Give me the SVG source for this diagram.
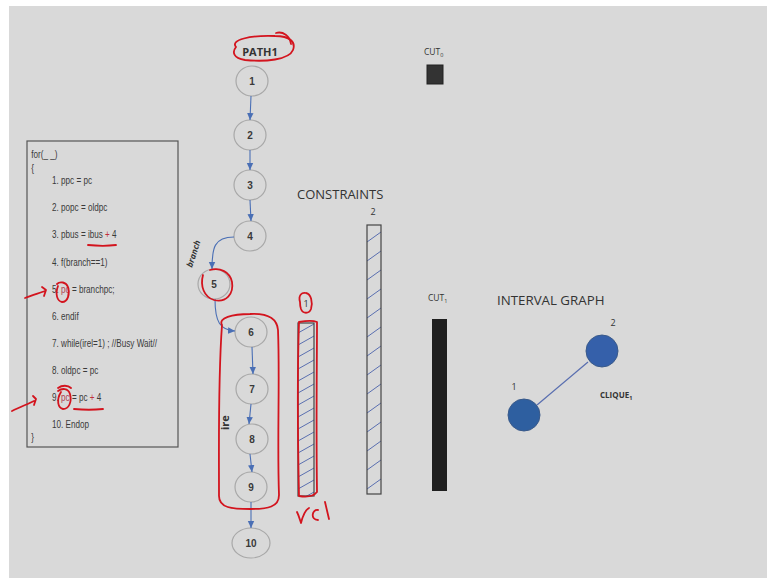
<svg xmlns="http://www.w3.org/2000/svg" width="767" height="578" viewBox="0 0 767 578">
  <style>
    .code{font-family:"Liberation Sans",Arial,sans-serif;font-size:11px;fill:#3a3a3a}
    .nd ellipse{fill:none;stroke:#a8a8a8;stroke-width:1.2}
    .nd text{font-family:"Liberation Sans",Arial,sans-serif;font-size:10px;font-weight:bold;fill:#3a3a3a;text-anchor:middle}
    .edge{fill:none;stroke:#4a6fb5;stroke-width:1.1;marker-end:url(#ah)}
    .ink{fill:none;stroke:#d3141e;stroke-width:1.8;stroke-linecap:round;stroke-linejoin:round}
    .lbl{font-family:"Open Sans","Liberation Sans",sans-serif;fill:#333}
    .hatch{stroke:#5a6fb0;stroke-width:1}
    .bar{stroke:#444;stroke-width:1.2}
  </style>
  <defs>
    <marker id="ah" markerWidth="8" markerHeight="8" refX="7" refY="4" orient="auto" markerUnits="userSpaceOnUse">
      <path d="M0,0.8 L7,4 L0,7.2 Z" fill="#4a6fb5"/>
    </marker>
    <pattern id="h1" patternUnits="userSpaceOnUse" x="298" y="323" width="16" height="12">
      <rect width="16" height="12" fill="#d9d9d9"/>
      <line x1="0" y1="10" x2="16" y2="1" class="hatch"/>
    </pattern>
    <pattern id="h2" patternUnits="userSpaceOnUse" x="367" y="225" width="14" height="19">
      <rect width="14" height="19" fill="#d9d9d9"/>
      <line x1="0" y1="17" x2="14" y2="7" class="hatch"/>
    </pattern>
  </defs>

  <rect width="767" height="578" fill="#ffffff"/>
  <rect x="9" y="6" width="758" height="572" fill="#d9d9d9"/>

  <!-- source listing (condensed horizontally) -->
  <g id="code">
    <rect x="27" y="141" width="151" height="306" fill="none" stroke="#555" stroke-width="1.2"/>
    <g transform="translate(52,0) scale(0.74,1)">
      <text class="code" x="-28" y="158">for(_ _)</text>
      <text class="code" x="-28" y="172">{</text>
      <text class="code" x="0" y="184">1. ppc = pc</text>
      <text class="code" x="0" y="211">2. popc = oldpc</text>
      <text class="code" x="0" y="238">3. pbus = ibus <tspan fill="#c0303a">+</tspan> 4</text>
      <text class="code" x="0" y="266">4. f(branch==1)</text>
      <text class="code" x="0" y="293">5. <tspan fill="#b04050">pc</tspan> = branchpc;</text>
      <text class="code" x="0" y="320">6. endif</text>
      <text class="code" x="0" y="347">7. while(irel=1) ; //Busy Wait//</text>
      <text class="code" x="0" y="374">8. oldpc = pc</text>
      <text class="code" x="0" y="401">9. <tspan fill="#b04050">pc</tspan> = pc <tspan fill="#c0303a">+</tspan> 4</text>
      <text class="code" x="0" y="428">10. Endop</text>
      <text class="code" x="-28" y="441">}</text>
    </g>
  </g>

  <!-- path nodes -->
  <g id="n1" class="nd"><ellipse cx="252" cy="81" rx="16" ry="15"/><text x="252" y="85">1</text></g>
  <g id="n2" class="nd"><ellipse cx="250" cy="135" rx="16" ry="15"/><text x="250" y="139">2</text></g>
  <g id="n3" class="nd"><ellipse cx="250" cy="185" rx="16" ry="15"/><text x="250" y="189">3</text></g>
  <g id="n4" class="nd"><ellipse cx="250" cy="236" rx="16" ry="15"/><text x="250" y="240">4</text></g>
  <g id="n5" class="nd"><ellipse cx="214" cy="284" rx="16" ry="15"/><text x="214" y="288">5</text></g>
  <g id="n6" class="nd"><ellipse cx="251" cy="332" rx="16" ry="15"/><text x="251" y="336">6</text></g>
  <g id="n7" class="nd"><ellipse cx="252" cy="389" rx="16" ry="15"/><text x="252" y="393">7</text></g>
  <g id="n8" class="nd"><ellipse cx="252" cy="439" rx="16" ry="15"/><text x="252" y="443">8</text></g>
  <g id="n9" class="nd"><ellipse cx="251" cy="487" rx="16" ry="15"/><text x="251" y="491">9</text></g>
  <g id="n10" class="nd"><ellipse cx="251" cy="543" rx="19" ry="15"/><text x="251" y="547">10</text></g>

  <!-- connectors -->
  <g id="edges">
    <path class="edge" d="M251,96 L250,120"/>
    <path class="edge" d="M250,150 L250,170"/>
    <path class="edge" d="M250,200 L251,221"/>
    <path class="edge" d="M234,237 C214,237 212,248 212,269"/>
    <path class="edge" d="M215,299 C215,322 220,330 235,331"/>
    <path class="edge" d="M252,347 L253,374"/>
    <path class="edge" d="M251,404 L249,424"/>
    <path class="edge" d="M250,454 L252,472"/>
    <path class="edge" d="M251,502 L251,528"/>
  </g>

  <text class="lbl" x="260" y="56" font-size="11" font-weight="bold" text-anchor="middle" fill="#222">PATH1</text>
  <text class="lbl" x="0" y="0" font-size="8.5" font-weight="bold" font-style="italic" transform="translate(192,268) rotate(-72)">branch</text>
  <text class="lbl" x="0" y="0" font-size="11" font-weight="bold" transform="translate(229,430) rotate(-90)">ire</text>

  <!-- constraint intervals -->
  <text class="lbl" x="297" y="199" font-size="13">CONSTRAINTS</text>
  <g id="c1">
    <rect x="298" y="323" width="16" height="173" fill="url(#h1)" class="bar"/>
    <text class="lbl" x="306" y="307" font-size="9" text-anchor="middle">1</text>
  </g>
  <g id="c2">
    <rect x="367" y="225" width="14" height="269" fill="url(#h2)" class="bar"/>
    <text class="lbl" x="373" y="215" font-size="9" text-anchor="middle">2</text>
  </g>

  <!-- cuts -->
  <g id="cut0">
    <text class="lbl" x="424" y="55" font-size="8.5">CUT<tspan font-size="5.5" dy="1.5">0</tspan></text>
    <rect x="427" y="65" width="16" height="19" fill="#333" stroke="#222" stroke-width="1"/>
  </g>
  <g id="cut1">
    <text class="lbl" x="428" y="301" font-size="8.5">CUT<tspan font-size="5.5" dy="1.5">1</tspan></text>
    <rect x="432" y="319" width="15" height="172" fill="#1f1f1f"/>
  </g>

  <!-- interval graph -->
  <text class="lbl" x="497" y="305" font-size="13.3">INTERVAL GRAPH</text>
  <g id="ig-edges">
    <line x1="537" y1="405" x2="588" y2="362" stroke="#5a6fb0" stroke-width="1.2"/>
  </g>
  <g id="ig1">
    <circle cx="524" cy="415" r="16" fill="#2e5fa0" stroke="#3a5a8a" stroke-width="1"/>
    <text class="lbl" x="514" y="390" font-size="9" text-anchor="middle">1</text>
  </g>
  <g id="ig2">
    <circle cx="602" cy="351" r="16" fill="#3560aa" stroke="#3a5a8a" stroke-width="1"/>
    <text class="lbl" x="613" y="326" font-size="9" text-anchor="middle">2</text>
  </g>
  <text class="lbl" x="600" y="398" font-size="8" font-weight="bold" fill="#222">CLIQUE<tspan font-size="5.5" dy="1.5">1</tspan></text>

  <!-- red pen marks -->
  <g id="ink">
    <path class="ink" d="M236,47 C230,40 250,35 275,36 C290,36 296,42 293,50 C289,60 265,62 245,60 C233,58 232,52 236,47"/>
    <path class="ink" d="M276,33 C283,31 290,36 291,44"/>
    <path class="ink" d="M88,245 C98,246 108,246 116,245"/>
    <path class="ink" d="M58,286 C55,294 57,301 62,302 C68,302 70,294 68,287 C66,282 60,281 57,284"/>
    <path class="ink" d="M25,298 C32,295 40,293 45,291 M42,287 L46,290 L44,296"/>
    <path class="ink" d="M61,392 C56,400 58,408 63,409 C69,409 72,402 70,394 C68,388 62,388 58,391"/>
    <path class="ink" d="M58,388 C62,385 68,385 71,388"/>
    <path class="ink" d="M74,409 C84,410 94,410 103,409"/>
    <path class="ink" d="M12,411 C20,407 28,404 34,401 M33,396 L36,399 L34,405"/>
    <path class="ink" d="M203,275 C200,286 204,297 214,300 C226,303 234,294 232,282 C230,272 220,267 210,270"/>
    <path class="ink" d="M222,325 C218,318 232,314 250,314 C268,313 277,318 278,330 C280,380 277,440 279,495 C279,507 268,509 250,509 C232,509 219,508 219,496 C219,440 218,380 222,325 Z"/>
    <path class="ink" d="M300,302 C298,295 302,292 306,293 C311,294 313,302 311,309 C309,314 303,314 301,309 C300,306 300,304 300,302"/>
    <path class="ink" d="M299,322 C305,321 312,320 317,322 C317,360 316,420 317,492 C313,497 305,497 299,496 C298,450 297,380 299,322"/>
    <path class="ink" d="M297,512 C299,516 300,520 301,523 C303,515 305,510 309,508 M318,510 C312,509 310,520 318,520 M325,502 L329,519"/>
  </g>
</svg>
